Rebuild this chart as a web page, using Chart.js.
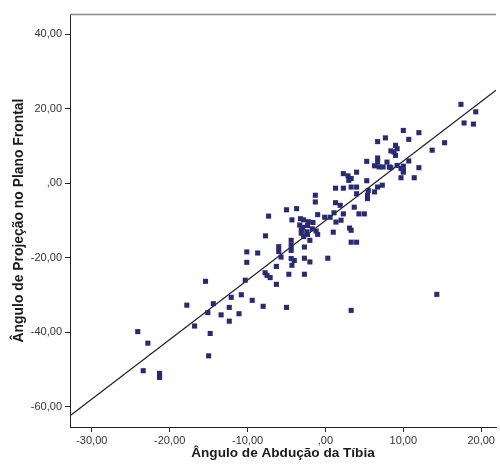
<!DOCTYPE html>
<html>
<head>
<meta charset="utf-8">
<script src="https://cdn.jsdelivr.net/npm/chart.js@4/dist/chart.umd.min.js"></script>
<style>
html,body{margin:0;padding:0;background:#fff;}
#wrap{width:500px;height:470px;}
</style>
</head>
<body>
<div id="wrap"><canvas id="c" width="500" height="470"></canvas></div>
<script>
const xTitle = "Ângulo de Abdução da Tíbia";
const yTitle = "Ângulo de Projeção no Plano Frontal";
const xTicks = [-30, -20, -10, 0, 10, 20];
const yTicks = [-60, -40, -20, 0, 20, 40];
const xRange = [-32.8, 21.9];
const yRange = [-65.4, 45.45];

const xVals = [-24.1,-22.8,-23.4,-21.3,-21.3,-17.8,-16.8,-15.4,-15.1,-14.8,-15.0,-14.4,-13.4,-12.35,-12.35,-12.1,-11.1,-10.8,-10.3,-9.4,
  -8.0,-5.0,-10.1,-10.1,-8.7,-7.3,-7.7,-6.0,-6.0,-5.7,-6.3,-7.75,-7.5,-7.1,-6.3,-5.0,-3.7,-4.3,-4.4,-4.4,
  -4.4,-4.4,-4.0,-4.3,-4.7,-2.7,-2.0,-2.7,-2.0,-2.7,-1.3,-1.3,-1.0,-0.1,-3.2,-2.8,-2.2,-1.6,-3.3,-2.9,
  -2.3,-1.7,-3.1,-2.4,-1.2,-3.1,-2.3,-1.0,-2.8,0.3,1.0,3.3,4.0,3.3,14.3,3.1,3.3,1.1,0.6,1.35,
  2.0,2.3,4.3,5.0,3.7,1.3,1.9,4.0,5.4,5.4,6.3,5.5,6.7,7.3,1.3,2.3,3.3,4.0,5.3,2.3,
  2.9,3.3,3.0,4.0,5.3,6.7,6.7,6.3,6.9,7.4,7.9,8.2,8.4,9.2,9.7,10.0,10.0,10.0,9.7,11.4,
  12.0,10.7,9.0,9.2,8.4,8.8,9.0,6.7,7.7,10.0,10.7,12.0,13.7,15.3,17.4,19.3,17.8,19.0];
const yVals = [-39.8,-42.9,-50.3,-51.0,-52.1,-32.7,-38.3,-26.3,-34.7,-40.3,-46.3,-32.3,-35.3,-33.3,-37.0,-30.6,-35.0,-29.9,-26.0,-31.4,
  -33.0,-33.3,-18.4,-21.2,-18.7,-8.8,-14.1,-17.0,-18.3,-19.8,-22.3,-24.0,-24.7,-25.3,-27.1,-7.1,-6.8,-9.8,-15.3,-16.7,
  -18.0,-20.2,-20.7,-22.0,-24.4,-17.1,-15.3,-20.1,-21.1,-24.4,-3.2,-5.0,-8.4,-9.1,-9.5,-9.8,-10.3,-10.5,-11.2,-11.8,
  -11.3,-12.2,-12.5,-13.0,-12.8,-13.4,-13.7,-13.7,-14.3,-20.1,-13.1,-15.8,-15.8,-34.1,-29.8,-12.0,-12.6,-7.9,-9.1,-10.4,
  -9.9,-8.2,-8.2,-8.2,-6.4,-5.2,-5.9,-2.8,-3.2,-4.1,-2.3,-1.9,-1.0,-0.5,-1.3,-1.3,-1.0,-1.0,0.7,2.6,
  2.0,1.3,0.8,3.0,5.9,6.8,5.7,4.7,4.4,4.4,5.7,4.4,4.2,4.8,4.0,4.6,3.5,3.0,1.5,1.5,
  4.2,6.0,10.2,9.3,8.7,8.4,7.5,11.2,12.2,14.2,11.8,13.6,8.9,10.9,21.2,19.2,16.2,15.9];

const lineX = [-32.8, 21.9];
const lineY = [-62.4, 25.0];

function fmt(v){
  if (v === 0) return ',00';
  return v.toFixed(2).replace('.', ',');
}

const points = xVals.map((x, i) => ({x: x, y: yVals[i]}));
const linePts = lineX.map((x, i) => ({x: x, y: lineY[i]}));

const topBorder = {
  id: 'topBorder',
  afterDraw(chart){
    const a = chart.chartArea, ctx = chart.ctx;
    ctx.save();
    ctx.strokeStyle = '#8a8a8a';
    ctx.lineWidth = 1.5;
    ctx.beginPath();
    ctx.moveTo(a.left, a.top + 0.5);
    ctx.lineTo(a.right, a.top + 0.5);
    ctx.stroke();
    ctx.restore();
  }
};

new Chart(document.getElementById('c'), {
  type: 'scatter',
  data: {
    datasets: [
      {
        data: linePts,
        showLine: true,
        borderColor: '#1e1e1e',
        borderWidth: 1.2,
        pointRadius: 0,
        fill: false,
        order: 1
      },
      {
        data: points,
        pointStyle: 'rect',
        pointRadius: 3.6,
        pointBorderWidth: 0,
        backgroundColor: '#2a2a72',
        borderColor: '#2a2a72',
        order: 0
      }
    ]
  },
  options: {
    responsive: false,
    animation: false,
    events: [],
    layout: {padding: {top: 14, left: 0, right: 0, bottom: 0}},
    plugins: {legend: {display: false}, tooltip: {enabled: false}},
    scales: {
      x: {
        type: 'linear',
        min: xRange[0], max: xRange[1],
        afterBuildTicks(s){ s.ticks = xTicks.map(v => ({value: v})); },
        afterFit(s){ s.height = 43; s.paddingLeft = 0; s.paddingRight = 0; },
        grid: {drawOnChartArea: false, drawTicks: true, tickLength: 5, tickColor: '#222'},
        border: {display: true, color: '#222', width: 1},
        ticks: {callback: fmt, font: {family: 'Liberation Sans', size: 11}, color: '#333', padding: 2, maxRotation: 0},
        title: {display: true, text: xTitle, font: {family: 'Liberation Sans', size: 13.6, weight: 'bold'}, color: '#1a1a1a', padding: {top: 0, bottom: 9}}
      },
      y: {
        type: 'linear',
        min: yRange[0], max: yRange[1],
        afterBuildTicks(s){ s.ticks = yTicks.map(v => ({value: v})); },
        afterFit(s){ s.width = 70; s.paddingTop = 0; s.paddingBottom = 0; },
        grid: {drawOnChartArea: false, drawTicks: true, tickLength: 5, tickColor: '#222'},
        border: {display: true, color: '#222', width: 1},
        ticks: {callback: fmt, font: {family: 'Liberation Sans', size: 11}, color: '#333', padding: 3},
        title: {display: true, text: yTitle, font: {family: 'Liberation Sans', size: 13.9, weight: 'bold'}, color: '#1a1a1a', padding: {top: 11, bottom: 0}}
      }
    }
  },
  plugins: [topBorder]
});
</script>
</body>
</html>
